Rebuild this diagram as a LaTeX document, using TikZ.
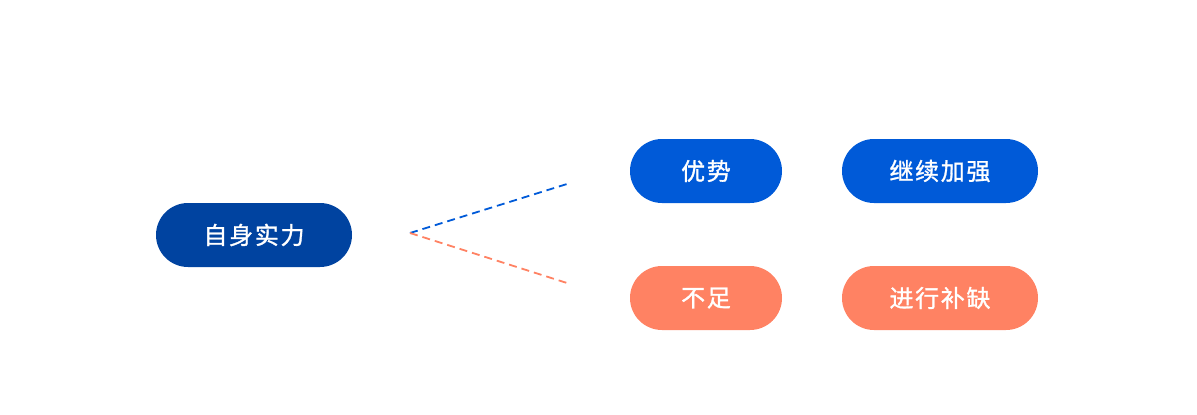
\documentclass[tikz,border=0pt]{standalone}
\usepackage{fontspec}
\newfontfamily\cjk[LetterSpace=7, FakeBold=1.2]{Noto Sans CJK SC}
\definecolor{darkblue}{HTML}{0043A0}
\definecolor{midblue}{HTML}{005AD8}
\definecolor{coral}{HTML}{FF8263}
\begin{document}
\begin{tikzpicture}[x=1pt,y=-1pt,
  pill/.style={rounded corners=32pt, minimum height=64pt, inner sep=0pt,
    text=white, font=\cjk\fontsize{24}{28}\selectfont},
  wide/.style={pill, minimum width=196pt},
  narrow/.style={pill, minimum width=152pt},
  link/.style={dashed, dash pattern=on 8pt off 5pt, line width=1.8pt}]
\useasboundingbox (0,0) rectangle (1197,415);
\node[wide, fill=darkblue] (self) at (254,235) {自身实力};
\node[narrow, fill=midblue] (adv) at (706,171) {优势};
\node[wide, fill=midblue] (keep) at (940,171) {继续加强};
\node[narrow, fill=coral] (weak) at (706,298) {不足};
\node[wide, fill=coral] (fill) at (940,298) {进行补缺};
\coordinate (hub) at (410,233);
\coordinate (topend) at (567,184);
\coordinate (botend) at (567,283);
\draw[link, midblue] (hub) -- (topend);
\draw[link, coral] (hub) -- (botend);
\end{tikzpicture}
\end{document}
